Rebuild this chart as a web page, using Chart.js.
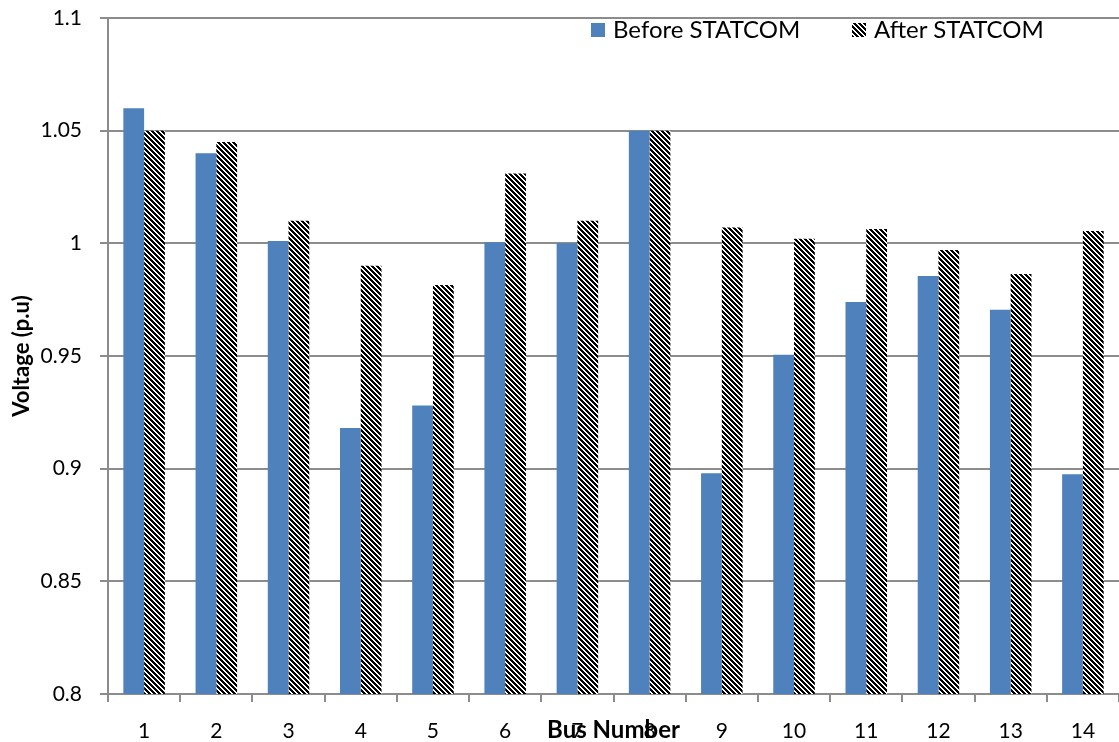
<!DOCTYPE html>
<html>
<head>
<meta charset="utf-8">
<script src="https://cdn.jsdelivr.net/npm/chart.js@4"></script>
<style>
  body { margin: 0; background: #fff; }
  #wrap { position: relative; width: 1119px; height: 742px; }
  .leg { position: absolute; font: 24px Lato, sans-serif; color: #000; white-space: nowrap; line-height: 24px; }
  .box { position: absolute; width: 14px; height: 14px; }
</style>
</head>
<body>
<div id="wrap">
  <canvas id="voltChart"></canvas>
  <div class="box" style="left:591px; top:23px; background:#4f81bd;"></div>
  <div class="leg" style="left:613px; top:17px;">Before STATCOM</div>
  <div class="box" style="left:852px; top:23px; background:repeating-linear-gradient(45deg, #000 0 2px, #fff 2px 3.5px);"></div>
  <div class="leg" style="left:874px; top:17px;">After STATCOM</div>
</div>
<script>
const busNumbers = ['1', '2', '3', '4', '5', '6', '7', '8', '9', '10', '11', '12', '13', '14'];
const beforeStatcom = [1.06, 1.04, 1.001, 0.918, 0.928, 1.0005, 1.0, 1.05, 0.898, 0.9505, 0.974, 0.9855, 0.9705, 0.8975];
const afterStatcom = [1.05, 1.045, 1.01, 0.99, 0.9815, 1.031, 1.01, 1.05, 1.007, 1.002, 1.0064, 0.997, 0.9864, 1.0055];

// black and white diagonal hatch for the "after" bars
function hacerRayado() {
    const n = 5;
    const c = document.createElement('canvas');
    c.width = n;
    c.height = n;
    const g = c.getContext('2d');
    const img = g.createImageData(n, n);
    for (let y = 0; y < n; y++) {
        for (let x = 0; x < n; x++) {
            const i = (y * n + x) * 4;
            const negro = ((x - y + n) % n) < 3;
            const v = negro ? 0 : 255;
            img.data[i] = v; img.data[i + 1] = v; img.data[i + 2] = v; img.data[i + 3] = 255;
        }
    }
    g.putImageData(img, 0, 0);
    return g.createPattern(c, 'repeat');
}

const gris = '#8c8c8c';
const fuente = 'Lato, sans-serif';

const ctx = document.getElementById('voltChart').getContext('2d');
new Chart(ctx, {
    type: 'bar',
    data: {
        labels: busNumbers,
        datasets: [{
            label: 'Before STATCOM',
            data: beforeStatcom,
            backgroundColor: '#4f81bd',
            borderWidth: 0
        }, {
            label: 'After STATCOM',
            data: afterStatcom,
            backgroundColor: hacerRayado(),
            borderWidth: 0
        }]
    },
    options: {
        responsive: true,
        maintainAspectRatio: false,
        animation: false,
        layout: { padding: { top: 18, right: 0, bottom: 0, left: 0 } },
        datasets: { bar: { categoryPercentage: 0.575, barPercentage: 1 } },
        plugins: {
            legend: { display: false },
            tooltip: { enabled: false }
        },
        scales: {
            x: {
                grid: { drawOnChartArea: false, drawTicks: true, tickLength: 8, color: gris, lineWidth: 2, offset: true },
                border: { color: gris, width: 2 },
                ticks: { color: '#000', font: { family: fuente, size: 21 }, padding: 17 },
                title: {
                    display: true,
                    text: 'Bus Number',
                    color: '#000',
                    font: { family: fuente, size: 24, weight: 'bold', lineHeight: 1 },
                    padding: { top: 0, bottom: 0 }
                },
                afterFit: s => { s.height = 48; s.paddingLeft = 0; s.paddingRight = 0; }
            },
            y: {
                min: 0.8,
                max: 1.1,
                grid: { color: gris, lineWidth: 2, tickLength: 8 },
                border: { color: gris, width: 2 },
                ticks: {
                    stepSize: 0.05,
                    color: '#000',
                    font: { family: fuente, size: 21 },
                    padding: 18,
                    callback: v => String(+v.toFixed(2))
                },
                title: {
                    display: true,
                    text: 'Voltage (p.u)',
                    color: '#000',
                    font: { family: fuente, size: 22, weight: 'bold', lineHeight: 1.1 },
                    padding: { top: 10, bottom: 0 }
                },
                afterFit: s => { s.width = 108; s.paddingTop = 0; s.paddingBottom = 0; }
            }
        }
    }
});
</script>
</body>
</html>
